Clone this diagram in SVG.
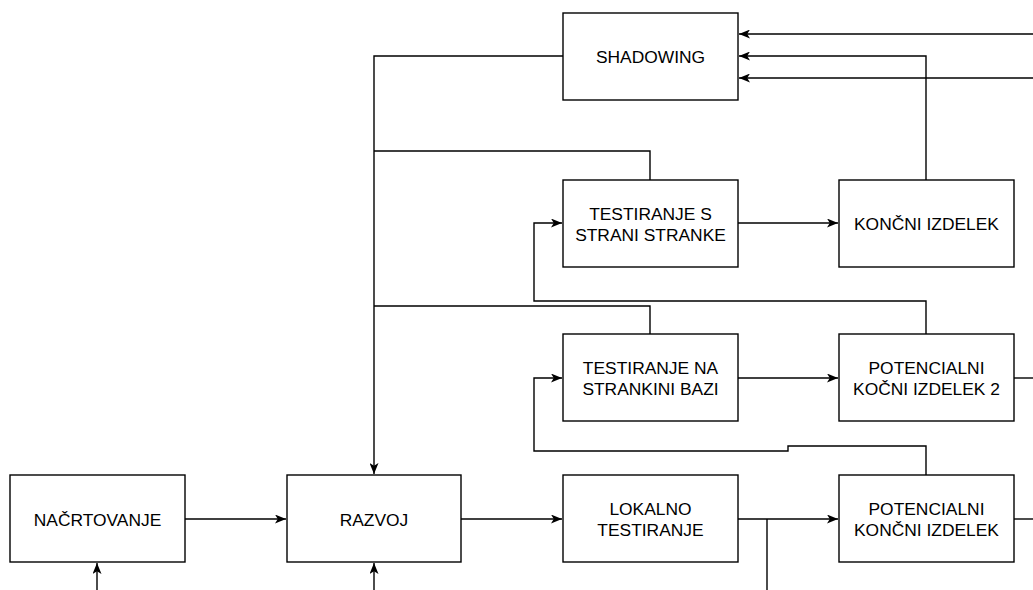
<svg xmlns="http://www.w3.org/2000/svg" width="1033" height="590" viewBox="0 0 1033 590">
<style>
.box{fill:#fff;stroke:#000;stroke-width:1.4}
.t{font-family:"Liberation Sans",Arial,sans-serif;font-size:17.4px;fill:#000;text-anchor:middle}
.c{fill:none;stroke:#000;stroke-width:1.4}
</style>
<defs>
<marker id="ar" viewBox="0 0 11 9" markerWidth="11" markerHeight="9" refX="11" refY="4.5" orient="auto" markerUnits="userSpaceOnUse">
<path d="M0,0 L11,4.5 L0,9 L2.8,4.5 z" fill="#000"/>
</marker>
</defs>
<rect width="1033" height="590" fill="#fff"/>
<g id="connectors">
<path class="c" d="M185,519 H286" marker-end="url(#ar)"/>
<path class="c" d="M461,519 H562" marker-end="url(#ar)"/>
<path class="c" d="M738,519 H838" marker-end="url(#ar)"/>
<path class="c" d="M767,519 V590"/>
<path class="c" d="M1014,519 H1033"/>
<path class="c" d="M1014,378 H1033"/>
<path class="c" d="M97,590 V563" marker-end="url(#ar)"/>
<path class="c" d="M374,590 V563" marker-end="url(#ar)"/>
<path class="c" d="M563,56 H374 V474" marker-end="url(#ar)"/>
<path class="c" d="M650,180 V151 H374"/>
<path class="c" d="M650,334 V306 H374"/>
<path class="c" d="M926,334 V301 H534 V223 H562" marker-end="url(#ar)"/>
<path class="c" d="M926,475 V446 H788 V451 H534 V378 H562" marker-end="url(#ar)"/>
<path class="c" d="M738,223 H838" marker-end="url(#ar)"/>
<path class="c" d="M738,378 H838" marker-end="url(#ar)"/>
<path class="c" d="M926,180 V56 H739" marker-end="url(#ar)"/>
<path class="c" d="M1033,34 H739" marker-end="url(#ar)"/>
<path class="c" d="M1033,78 H739" marker-end="url(#ar)"/>
</g>
<g id="shadowing"><rect class="box" x="563" y="13" width="175" height="87"/><text class="t" x="650.5" y="63">SHADOWING</text></g>
<g id="testiranje-s"><rect class="box" x="563" y="180" width="175" height="87"/><text class="t" x="650.5" y="220">TESTIRANJE S</text><text class="t" x="650.5" y="241">STRANI STRANKE</text></g>
<g id="koncni"><rect class="box" x="839" y="180" width="175" height="87"/><text class="t" x="926.5" y="230">KONČNI IZDELEK</text></g>
<g id="testiranje-na"><rect class="box" x="563" y="334" width="175" height="87"/><text class="t" x="650.5" y="374">TESTIRANJE NA</text><text class="t" x="650.5" y="395">STRANKINI BAZI</text></g>
<g id="potencialni2"><rect class="box" x="839" y="334" width="175" height="87"/><text class="t" x="926.5" y="374">POTENCIALNI</text><text class="t" x="926.5" y="395">KOČNI IZDELEK 2</text></g>
<g id="nacrtovanje"><rect class="box" x="10" y="475" width="175" height="87"/><text class="t" x="97.5" y="525.5">NAČRTOVANJE</text></g>
<g id="razvoj"><rect class="box" x="287" y="475" width="174" height="87"/><text class="t" x="374" y="525.5">RAZVOJ</text></g>
<g id="lokalno"><rect class="box" x="563" y="475" width="175" height="87"/><text class="t" x="650.5" y="515">LOKALNO</text><text class="t" x="650.5" y="536">TESTIRANJE</text></g>
<g id="potencialni"><rect class="box" x="839" y="475" width="175" height="87"/><text class="t" x="926.5" y="515">POTENCIALNI</text><text class="t" x="926.5" y="536">KONČNI IZDELEK</text></g>
</svg>
